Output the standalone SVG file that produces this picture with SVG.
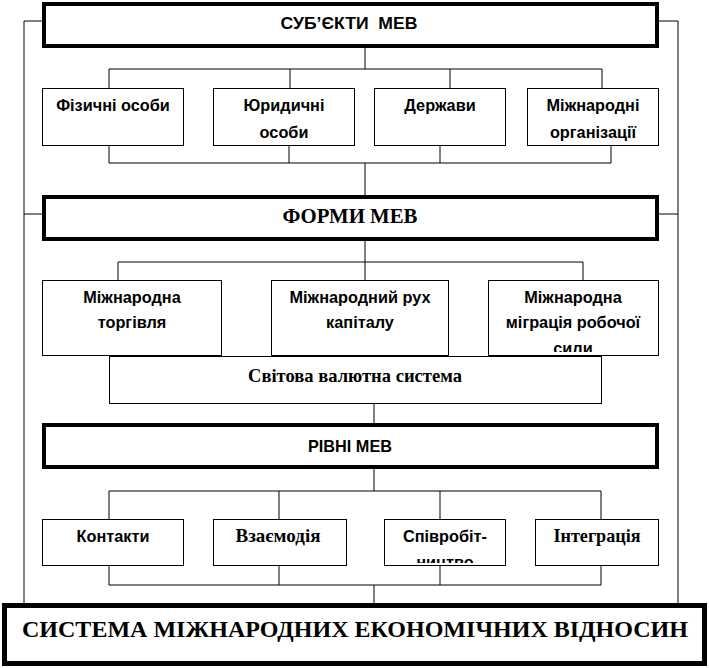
<svg xmlns="http://www.w3.org/2000/svg" width="709" height="668" viewBox="0 0 709 668">
<style>
.bg{fill:#fff}
.thin{fill:#fff;stroke:#000;stroke-width:1}
.thick{fill:#fff;stroke:#000;stroke-width:4}
.huge{fill:#fff;stroke:#000;stroke-width:5}
.ln{fill:none;stroke:#000;stroke-width:1}
.s{font-family:"Liberation Sans Narrow","Liberation Sans",Arial,sans-serif;font-weight:bold;font-size:16.3px;text-anchor:middle;fill:#000}
.r{font-family:"Liberation Serif","Times New Roman",serif;font-weight:bold;text-anchor:middle;fill:#000}
</style>
<defs>
<clipPath id="c1"><rect x="489" y="281" width="169" height="71"/></clipPath>
<clipPath id="c2"><rect x="385" y="520" width="120" height="43"/></clipPath>
</defs>
<rect class="bg" x="0" y="0" width="709" height="668"/>
<g id="connectors">
<path class="ln" d="M24 21H42M659 21H678M24 21V603M678 21V603M24 214H42M659 214H678"/>
<path class="ln" d="M365 48V69M109 69H602M109 69V88M290 69V88M450 69V88M602 69V88"/>
<path class="ln" d="M109 146V163M289 146V163M440 146V163M611 146V163M109 163H611M365 163V195"/>
<path class="ln" d="M365 241V262M118 262H583M118 262V280M365 262V280M583 262V280"/>
<path class="ln" d="M374 404V423M374 469V491M109 491H601M109 491V519M279 491V519M440 491V519M601 491V519"/>
<path class="ln" d="M109 566V585M279 566V585M440 566V585M601 566V585M109 585H601M374 585V603"/>
</g>
<g id="subjects">
<rect class="thick" x="44" y="4" width="613" height="42"/>
<text class="s" x="349" y="29" font-size="17" textLength="137" lengthAdjust="spacingAndGlyphs" xml:space="preserve">СУБ’ЄКТИ  МЕВ</text>
</g>
<g id="fiz"><rect class="thin" x="42.5" y="88.5" width="141" height="57"/><text class="s" x="113" y="111">Фізичні особи</text></g>
<g id="yur"><rect class="thin" x="213.5" y="88.5" width="141" height="57"/><text class="s" x="284" y="111">Юридичні</text><text class="s" x="284" y="138">особи</text></g>
<g id="derzh"><rect class="thin" x="374.5" y="88.5" width="131" height="57"/><text class="s" x="440" y="111">Держави</text></g>
<g id="mo"><rect class="thin" x="527.5" y="88.5" width="131" height="57"/><text class="s" x="593" y="111">Міжнародні</text><text class="s" x="593" y="138">організації</text></g>
<g id="forms">
<rect class="thick" x="44" y="197" width="613" height="42"/>
<text class="r" x="350" y="223" font-size="21" textLength="135" lengthAdjust="spacingAndGlyphs">ФОРМИ МЕВ</text>
</g>
<g id="currency"><rect class="thin" x="109.5" y="356.5" width="492" height="47"/><text class="r" x="355" y="382" font-size="19" textLength="214" lengthAdjust="spacingAndGlyphs">Світова валютна система</text></g>
<g id="trade"><rect class="thin" x="42.5" y="280.5" width="179" height="75"/><text class="s" x="132" y="303">Міжнародна</text><text class="s" x="132" y="328">торгівля</text></g>
<g id="capital"><rect class="thin" x="271.5" y="280.5" width="177" height="75"/><text class="s" x="360" y="303">Міжнародний рух</text><text class="s" x="360" y="328">капіталу</text></g>
<g id="labour"><rect class="thin" x="488.5" y="280.5" width="170" height="75"/><text class="s" x="573" y="303">Міжнародна</text><text class="s" x="573" y="328">міграція робочої</text><text class="s" x="573" y="354" clip-path="url(#c1)">сили</text></g>
<g id="levels">
<rect class="thick" x="44" y="425" width="613" height="42"/>
<text class="s" x="350" y="452" font-size="17">РІВНІ МЕВ</text>
</g>
<g id="contacts"><rect class="thin" x="42.5" y="519.5" width="141" height="46"/><text class="s" x="113" y="542">Контакти</text></g>
<g id="interaction"><rect class="thin" x="213.5" y="519.5" width="133" height="46"/><text class="r" x="278" y="542" font-size="19" textLength="85" lengthAdjust="spacingAndGlyphs">Взаємодія</text></g>
<g id="cooperation"><rect class="thin" x="384.5" y="519.5" width="121" height="46"/><text class="s" x="445" y="542">Співробіт-</text><text class="s" x="445" y="568" clip-path="url(#c2)">ництво</text></g>
<g id="integration"><rect class="thin" x="535.5" y="519.5" width="123" height="46"/><text class="r" x="597" y="542" font-size="19" textLength="87" lengthAdjust="spacingAndGlyphs">Інтеграція</text></g>
<g id="system">
<rect class="huge" x="4.5" y="605.5" width="700" height="58"/>
<text class="r" x="355" y="637" font-size="24" textLength="666" lengthAdjust="spacingAndGlyphs">СИСТЕМА МІЖНАРОДНИХ ЕКОНОМІЧНИХ ВІДНОСИН</text>
</g>
</svg>
